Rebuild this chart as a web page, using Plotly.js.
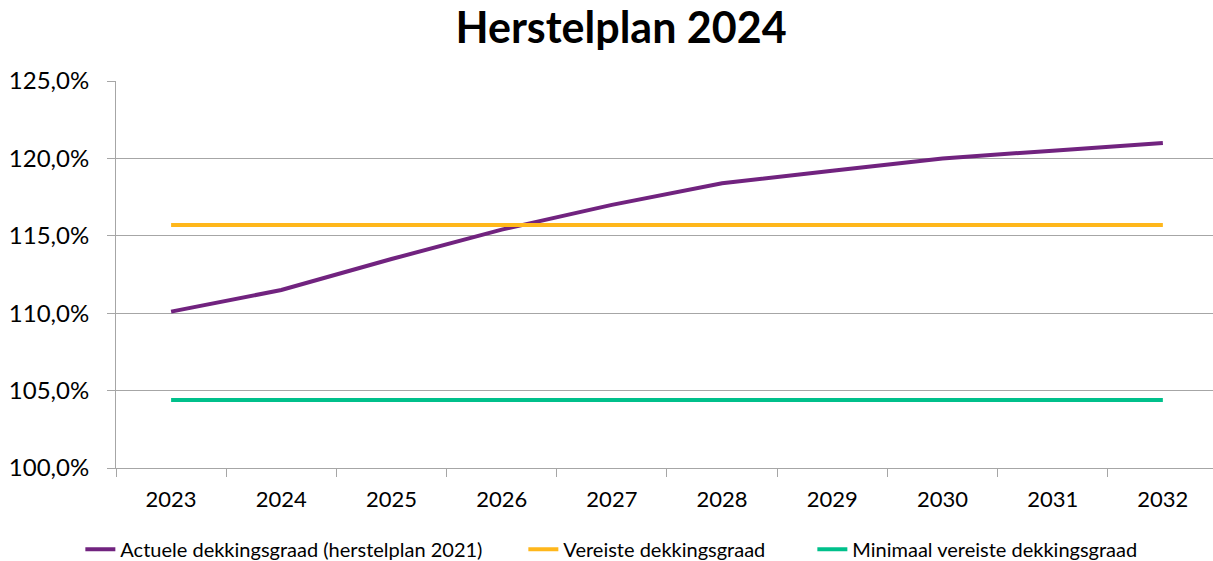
<!DOCTYPE html>
<html>
<head>
<meta charset="utf-8">
<script src="https://cdn.plot.ly/plotly-3.0.1.min.js"></script>
<style>html,body{margin:0;padding:0;background:#fff;}#chart{width:1213px;height:561px;}</style>
</head>
<body>
<div id="chart"></div>
<script>
const years = ["2023","2024","2025","2026","2027","2028","2029","2030","2031","2032"];
const actueel = [110.1, 111.5, 113.5, 115.4, 117.0, 118.4, 119.2, 120.0, 120.5, 121.0];
const vereist = [115.7, 115.7, 115.7, 115.7, 115.7, 115.7, 115.7, 115.7, 115.7, 115.7];
const minimaal = [104.4, 104.4, 104.4, 104.4, 104.4, 104.4, 104.4, 104.4, 104.4, 104.4];
const yTicks = [100, 105, 110, 115, 120, 125];
const yTickText = ["100,0%", "105,0%", "110,0%", "115,0%", "120,0%", "125,0%"];
const names = ["Actuele dekkingsgraad (herstelplan 2021)", "Vereiste dekkingsgraad", "Minimaal vereiste dekkingsgraad"];

const font = "Lato, 'Open Sans', sans-serif";
const traces = [
  {x: years, y: actueel, name: names[0], type: "scatter", mode: "lines", line: {color: "#71237f", width: 4}, legendwidth: 398},
  {x: years, y: vereist, name: names[1], type: "scatter", mode: "lines", line: {color: "#ffb71b", width: 4}, legendwidth: 244},
  {x: years, y: minimaal, name: names[2], type: "scatter", mode: "lines", line: {color: "#00c08b", width: 4}}
];
const layout = {
  width: 1213, height: 561,
  margin: {l: 116, r: 0, t: 81, b: 93},
  paper_bgcolor: "#fff", plot_bgcolor: "#fff",
  separators: ",.",
  font: {family: font, color: "#000"},
  title: {text: "<b>Herstelplan 2024</b>", font: {family: font, size: 43, color: "#000"},
          x: 0.512, xref: "container", xanchor: "center", y: 0.95, yref: "container", yanchor: "middle"},
  xaxis: {type: "category", range: [-0.5, 9.455], tickson: "boundaries", ticks: "outside", ticklen: 8,
          tickcolor: "#a6a6a6", showline: true, linecolor: "#a6a6a6", linewidth: 1, showgrid: false,
          ticklabelstandoff: 12,
          tickfont: {size: 22, family: font}, zeroline: false, fixedrange: true},
  yaxis: {range: [100, 125], tickmode: "array", tickvals: yTicks, ticktext: yTickText, ticks: "outside", ticklen: 8,
          tickcolor: "#a6a6a6", showline: true, linecolor: "#a6a6a6", linewidth: 1, showgrid: true,
          ticklabelstandoff: 13,
          gridcolor: "#a6a6a6", gridwidth: 1, tickfont: {size: 24, family: font}, zeroline: false, fixedrange: true},
  showlegend: true,
  legend: {orientation: "h", x: 0.504, xref: "container", xanchor: "center", y: 0.021, yref: "container", yanchor: "middle",
           font: {size: 20, family: font}, tracegroupgap: 0},
};
Plotly.newPlot("chart", traces, layout, {displayModeBar: false, staticPlot: true});
</script>
</body>
</html>
